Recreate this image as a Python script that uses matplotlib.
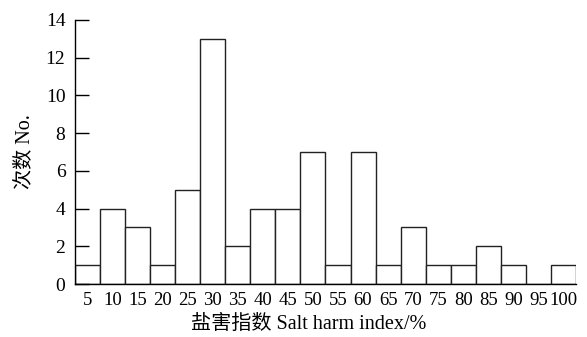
import matplotlib
matplotlib.use("Agg")
import matplotlib.pyplot as plt

bins = [5, 10, 15, 20, 25, 30, 35, 40, 45, 50, 55, 60, 65, 70, 75, 80, 85, 90, 95, 100]
counts = [1, 4, 3, 1, 5, 13, 2, 4, 4, 7, 1, 7, 1, 3, 1, 1, 2, 1, 0, 1]
yticks = [0, 2, 4, 6, 8, 10, 12, 14]

fam = ['Liberation Serif', 'Noto Sans CJK SC']
plt.rcParams['font.family'] = fam

fig = plt.figure(figsize=(5.87, 3.37), dpi=100)
ax = fig.add_axes([0.128, 0.157, 0.853, 0.784])
ax.bar(bins, counts, width=5, facecolor='white', edgecolor='#222222', linewidth=1.0)
ax.set_xlim(2.5, 102.5)
ax.set_ylim(0, 14)
ax.set_xticks(bins)
ax.set_xticklabels([str(b) for b in bins], fontsize=13.5)
ax.set_yticks(yticks)
ax.set_yticklabels([str(t) for t in yticks], fontsize=14)
ax.tick_params(axis='x', length=0, pad=6)
ax.tick_params(axis='y', direction='in', length=10, width=1, pad=7)
for s in ['top', 'right']:
    ax.spines[s].set_visible(False)
ax.spines['left'].set_linewidth(1.0)
ax.spines['bottom'].set_linewidth(1.0)
ax.set_xlabel('盐害指数 Salt harm index/%', fontsize=14.5, labelpad=4)
ax.xaxis.set_label_coords(0.467, -0.115)
ax.set_ylabel('次数 No.', fontsize=14.5, labelpad=8)
fig.savefig('out.png', dpi=100)
